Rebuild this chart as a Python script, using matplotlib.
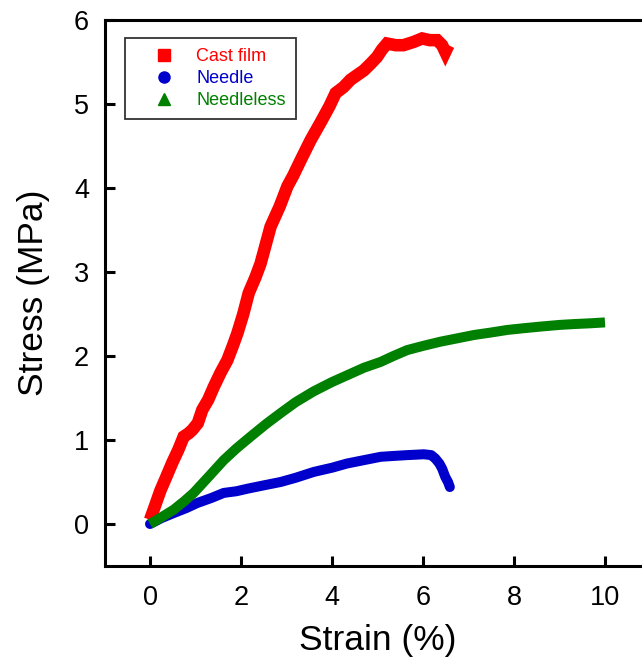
import matplotlib
matplotlib.use("Agg")
import matplotlib.pyplot as plt
from matplotlib.lines import Line2D

plt.rcParams['font.family'] = ['Liberation Sans', 'DejaVu Sans']

# values
cast_x = [0.0, 0.1, 0.23, 0.35, 0.49, 0.62, 0.74, 0.85, 0.93, 1.05, 1.15, 1.28, 1.40, 1.55,
          1.70, 1.82, 1.92, 2.05, 2.17, 2.32, 2.43, 2.65, 2.85, 3.02, 3.15, 3.31, 3.53,
          3.78, 3.95, 4.08, 4.25, 4.41, 4.70, 4.85, 4.99, 5.10, 5.21, 5.40, 5.57, 5.80,
          5.98, 6.15, 6.31, 6.42, 6.49, 6.56]
cast_y = [0.05, 0.2, 0.40, 0.55, 0.73, 0.88, 1.04, 1.08, 1.12, 1.20, 1.36, 1.48, 1.63, 1.80,
          1.95, 2.12, 2.27, 2.50, 2.75, 2.94, 3.10, 3.54, 3.78, 4.02, 4.15, 4.33, 4.57,
          4.81, 4.98, 5.13, 5.20, 5.29, 5.40, 5.48, 5.56, 5.65, 5.72, 5.70, 5.70, 5.74,
          5.78, 5.76, 5.76, 5.70, 5.62, 5.70]

needle_x = [0.0, 0.25, 0.52, 0.80, 1.04, 1.35, 1.62, 1.90, 2.14, 2.50, 2.87, 3.20, 3.60, 4.00,
            4.33, 4.70, 5.07, 5.35, 5.65, 6.02, 6.18, 6.27, 6.36, 6.42, 6.49, 6.55, 6.59]
needle_y = [0.0, 0.07, 0.13, 0.19, 0.25, 0.31, 0.37, 0.39, 0.42, 0.46, 0.50, 0.55, 0.62, 0.67,
            0.72, 0.76, 0.80, 0.81, 0.82, 0.83, 0.82, 0.78, 0.72, 0.66, 0.56, 0.50, 0.44]

needleless_x = [0.0, 0.25, 0.52, 0.75, 0.96, 1.30, 1.62, 1.90, 2.21, 2.55, 2.87, 3.20, 3.60,
                4.00, 4.33, 4.70, 5.07, 5.35, 5.65, 6.00, 6.38, 6.75, 7.12, 7.50, 7.85,
                8.20, 8.58, 9.00, 9.31, 9.70, 10.0]
needleless_y = [0.0, 0.08, 0.17, 0.27, 0.37, 0.57, 0.76, 0.90, 1.04, 1.19, 1.32, 1.45, 1.58,
                1.69, 1.77, 1.86, 1.93, 2.00, 2.07, 2.12, 2.17, 2.21, 2.25, 2.28, 2.31,
                2.33, 2.35, 2.37, 2.38, 2.39, 2.40]

labels = ['Cast film', 'Needle', 'Needleless']
colors = ['#FF0000', '#0000CC', '#008000']
markers = ['s', 'o', '^']
x_ticks = [0, 2, 4, 6, 8, 10]
y_ticks = [0, 1, 2, 3, 4, 5, 6]

W, H = 642, 659
fig = plt.figure(figsize=(W / 100, H / 100), dpi=100)
ax = fig.add_axes([104.5 / W, 1 - 566 / H, 546 / W, 546 / H])

ax.plot(cast_x, cast_y, color=colors[0], lw=9, solid_capstyle='butt', solid_joinstyle='miter')
ax.plot(needle_x, needle_y, color=colors[1], lw=7.2, solid_capstyle='round')
ax.plot(needleless_x, needleless_y, color=colors[2], lw=7.2, solid_capstyle='butt')

ax.set_xlim(-1, 11)
ax.set_ylim(-0.5, 6)
ax.set_xticks(x_ticks)
ax.set_yticks(y_ticks)
ax.tick_params(direction='in', length=7, width=2.2, labelsize=19.5)
ax.tick_params(axis='x', pad=14)
ax.tick_params(axis='y', pad=11)
for s in ax.spines.values():
    s.set_linewidth(2.2)

ax.set_xlabel('Strain (%)', fontsize=25.5, labelpad=9)
ax.set_ylabel('Stress (MPa)', fontsize=25.5, labelpad=17)

handles = [Line2D([], [], ls='none', marker=m, color=c, markersize=8) for m, c in zip(markers, colors)]
leg = fig.legend(handles, labels, loc='upper left', bbox_to_anchor=(125 / W, 1 - 38 / H),
                 borderaxespad=0, fontsize=13, handlelength=3.2, handletextpad=0.2,
                 borderpad=0.55, labelspacing=0.28, labelcolor=colors,
                 fancybox=False, framealpha=1)
leg.get_frame().set_edgecolor('#333333')
leg.get_frame().set_linewidth(1.3)

fig.savefig('out.png', dpi=100)
